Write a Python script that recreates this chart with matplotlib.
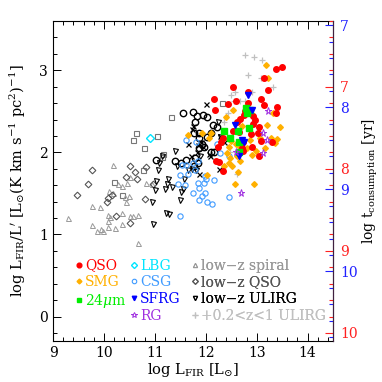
import numpy as np
import matplotlib
matplotlib.use('Agg')
import matplotlib.pyplot as plt
from matplotlib.ticker import MultipleLocator

plt.rcParams['font.family'] = ['DejaVu Serif']
plt.rcParams['mathtext.fontset'] = 'dejavuserif'

# high-z samples
qso_x = [13.49, 13.37, 13.15, 12.54, 13.23, 12.83, 12.16, 13.08, 12.60, 12.44, 12.83, 13.15, 13.40,
         13.37, 12.18, 12.77, 12.75, 12.93, 12.67, 12.97, 12.93, 12.62, 12.54, 12.65, 13.02, 13.08,
         13.30, 12.30, 12.73, 12.24, 12.91, 12.73, 13.04, 12.20, 12.34, 13.05, 12.89, 12.71, 12.33, 12.26]
qso_y = [3.04, 3.01, 2.90, 2.80, 2.76, 2.74, 2.65, 2.65, 2.62, 2.59, 2.60, 2.58, 2.55,
         2.48, 2.51, 2.50, 2.46, 2.44, 2.41, 2.39, 2.35, 2.37, 2.26, 2.25, 2.23, 2.14,
         2.13, 2.12, 2.13, 2.07, 2.07, 2.02, 1.96, 1.90, 1.77, 2.31, 2.22, 2.05, 2.17, 1.88]

smg_x = [13.18, 13.22, 12.53, 12.39, 12.71, 13.32, 13.46, 13.21, 11.64, 11.92, 12.10, 12.07, 12.33,
         12.49, 12.60, 12.86, 13.07, 13.28, 13.40, 13.36, 12.81, 12.45, 12.66, 12.41, 12.61, 12.98,
         13.17, 12.90, 12.48, 12.67, 12.45, 12.51, 12.35, 12.64, 12.58, 12.94, 12.03]
smg_y = [3.07, 2.91, 2.52, 2.43, 2.32, 2.48, 2.31, 2.33, 2.21, 2.24, 2.24, 2.18, 2.16,
         2.14, 2.10, 2.15, 2.18, 2.18, 2.16, 2.11, 2.05, 2.07, 2.08, 1.99, 1.96, 2.02,
         2.05, 1.97, 1.93, 1.89, 1.87, 1.83, 1.83, 1.76, 1.61, 1.62, 1.72]

mips_x = [12.35, 12.63, 12.84, 12.48, 12.66, 12.66, 12.79, 12.86, 12.81]
mips_y = [2.26, 2.26, 2.30, 2.17, 2.12, 2.00, 2.54, 2.51, 2.48]

sfrg_x = [12.82, 12.91, 12.58, 12.71, 12.74, 12.66]
sfrg_y = [2.70, 2.51, 2.33, 2.15, 2.12, 1.95]

rg_x = [13.22, 13.12, 13.21, 13.12, 12.60, 12.69]
rg_y = [2.50, 2.24, 2.15, 1.99, 2.00, 1.51]

lbg_x = [10.90]
lbg_y = [2.17]

csg_x = [11.62, 11.80, 12.22, 12.28, 12.46, 11.53, 11.62, 11.74, 11.85, 11.50, 11.64, 11.78, 11.45,
         11.60, 11.74, 11.84, 11.86, 11.97, 12.01, 11.99, 11.92, 12.03, 12.12, 12.17, 11.86, 11.49,
         12.46, 11.98]
csg_y = [2.15, 2.13, 2.10, 1.99, 1.96, 1.85, 1.85, 1.87, 1.89, 1.73, 1.74, 1.78, 1.61,
         1.60, 1.50, 1.63, 1.56, 1.63, 1.68, 1.50, 1.47, 1.40, 1.37, 1.66, 1.42, 1.23,
         1.46, 1.71]

# low-z samples
spiral_x = [9.30, 9.77, 9.77, 9.87, 9.92, 9.98, 10.08, 9.95, 10.07, 10.12, 10.21, 10.17, 10.10,
            10.18, 10.28, 10.36, 10.46, 10.52, 10.41, 10.50, 10.44, 10.35, 10.51, 10.56, 10.66,
            10.36, 10.66, 10.82, 10.94, 10.07]
spiral_y = [1.20, 1.35, 1.12, 1.04, 1.33, 1.04, 1.09, 1.07, 1.16, 1.21, 1.08, 1.84, 1.53,
            1.51, 1.62, 1.59, 1.63, 1.70, 1.45, 1.47, 1.40, 1.13, 1.22, 1.23, 1.24,
            1.26, 0.89, 1.63, 1.62, 1.24]

lzqso_x = [9.77, 9.69, 9.47, 10.08, 10.15, 10.05, 10.51, 10.44, 10.64, 10.61, 10.23, 10.51, 10.80,
           10.82, 10.97]
lzqso_y = [1.78, 1.62, 1.48, 1.44, 1.48, 1.40, 1.83, 1.70, 1.68, 1.76, 1.22, 1.14, 1.43,
           1.82, 1.61]

ulirg_x = [11.39, 11.13, 11.08, 11.43, 11.07, 11.64, 11.26, 11.57, 11.23, 11.33, 11.19, 11.55, 11.00,
           11.51, 11.49, 10.94, 11.21, 11.28, 10.96, 12.24, 11.89, 12.27, 11.81, 11.72, 11.03]
ulirg_y = [2.02, 1.95, 1.87, 1.83, 1.79, 1.78, 1.67, 1.68, 1.61, 1.58, 1.55, 1.55, 1.54,
           1.52, 1.42, 1.39, 1.26, 1.25, 1.13, 2.37, 1.95, 2.19, 1.78, 1.80, 1.65]

midz_x = [12.77, 12.94, 13.10, 12.83, 13.09, 13.32, 12.58, 12.49, 12.90, 12.77, 12.56, 12.44, 12.36,
          12.62, 12.48, 12.67]
midz_y = [3.18, 3.16, 3.13, 2.94, 2.91, 2.80, 2.73, 2.70, 2.73, 2.63, 2.62, 2.48, 2.37,
          1.74, 2.01, 2.63]

# extra samples without legend entries
circ_x = [11.55, 11.74, 11.83, 11.95, 12.02, 11.79, 12.15, 11.76, 11.87, 12.02, 11.92, 11.87, 12.11,
          12.17, 11.40, 11.51, 11.62, 11.79, 11.85, 11.76, 11.03, 12.10, 11.97, 11.86, 12.22]
circ_y = [2.48, 2.49, 2.44, 2.46, 2.43, 2.37, 2.33, 2.23, 2.23, 2.19, 2.10, 2.17, 2.00,
          2.01, 1.89, 1.87, 1.91, 1.93, 1.87, 1.83, 1.91, 2.24, 2.07, 2.05, 2.31]

cross_x = [12.00, 11.74, 11.64, 11.91, 11.95, 12.06, 12.08, 11.87, 12.25, 12.27, 12.35, 11.70, 11.85,
           11.72, 11.82]
cross_y = [2.59, 2.32, 2.10, 2.13, 2.07, 1.98, 1.95, 1.74, 1.80, 2.20, 2.13, 1.96, 2.09,
           2.28, 2.01]

sq_x = [12.31, 11.32, 10.63, 10.57, 11.05, 10.78, 11.15, 11.13, 10.77, 10.20, 10.35]
sq_y = [2.60, 2.43, 2.24, 2.15, 2.20, 2.05, 1.98, 1.94, 1.78, 1.64, 1.48]

# offsets of the two log t_consumption scales
red_zero = 9.8
blue_zero = 10.55

fig = plt.figure(figsize=(3.82, 3.82), dpi=100, facecolor='w')
ax = fig.add_axes([0.139, 0.107, 0.733, 0.838])

ax.plot(sq_x, sq_y, 's', ms=3.6, mfc='none', mec='#777777', mew=0.8)
ax.plot(spiral_x, spiral_y, '^', ms=3.6, mfc='none', mec='#999999', mew=0.7)
ax.plot(lzqso_x, lzqso_y, 'D', ms=3.4, mfc='none', mec='#555555', mew=0.8)
ax.plot(ulirg_x, ulirg_y, 'v', ms=3.6, mfc='none', mec='k', mew=0.8)
ax.plot(circ_x, circ_y, 'o', ms=4.6, mfc='none', mec='k', mew=1.0)
ax.plot(cross_x, cross_y, 'x', ms=3.6, mec='k', mew=0.9)
ax.plot(csg_x, csg_y, 'o', ms=3.8, mfc='none', mec='#3f9bff', mew=0.8)
ax.plot(lbg_x, lbg_y, 'D', ms=3.6, mfc='none', mec='#00e5ff', mew=1.0)
ax.plot(midz_x, midz_y, '+', ms=4.6, mec='#c0c0c0', mew=0.9)
ax.plot(smg_x, smg_y, 'D', ms=2.9, color='#ffb000', mec='#ffb000')
ax.plot(qso_x, qso_y, 'o', ms=4.0, color='#ff0000', mec='#ff0000')
ax.plot(mips_x, mips_y, 's', ms=4.0, color='#00ee00', mec='#00ee00')
ax.plot(sfrg_x, sfrg_y, 'v', ms=3.8, color='#0000ff', mec='#0000ff')
ax.plot(rg_x, rg_y, '*', ms=5.2, mfc='none', mec='#a030e0', mew=0.7)

ax.set_xlim(9, 14.5)
ax.set_ylim(-0.3, 3.6)
ax.xaxis.set_major_locator(MultipleLocator(1))
ax.xaxis.set_minor_locator(MultipleLocator(0.2))
ax.yaxis.set_major_locator(MultipleLocator(1))
ax.yaxis.set_minor_locator(MultipleLocator(0.2))
ax.tick_params(which='both', direction='in', top=True, right=False, labelsize=10)
ax.tick_params(which='major', length=6, width=0.7)
ax.tick_params(which='minor', length=3, width=0.7)
ax.set_xlabel(r'log L$_{\rm FIR}$ [L$_{\odot}$]', fontsize=10.5, labelpad=1)
ax.set_ylabel(r"log L$_{\rm FIR}$/L$'$ [L$_{\odot}$(K km s$^{-1}$ pc$^{2}$)$^{-1}$]",
              fontsize=10.5, labelpad=8)

# two right-hand scales of gas consumption time
axr = ax.twinx()
axr.set_ylim(red_zero + 0.3, red_zero - 3.6)
axb = ax.twinx()
axb.set_ylim(blue_zero + 0.3, blue_zero - 3.6)
for a, c in ((axr, '#ff2020'), (axb, '#2020ff')):
    a.yaxis.set_major_locator(MultipleLocator(1))
    a.yaxis.set_minor_locator(MultipleLocator(0.2))
    a.tick_params(which='both', direction='in', colors=c, labelsize=10, pad=5)
    a.tick_params(which='major', length=6, width=0.8)
    a.tick_params(which='minor', length=3, width=0.8)
    for s in a.spines.values():
        s.set_visible(False)
axb.spines['right'].set_visible(True)
axb.spines['right'].set_color('#402040')
axb.set_ylabel(r'log t$_{\rm consumption}$ [yr]', fontsize=10, labelpad=2)

# legend in three columns, built from the plotted series
h = ax.get_lines()
cols = [
    ([h[10], h[9], h[11]], ['QSO', 'SMG', r'24$\mu$m'],
     ['#ff0000', '#ffb000', '#00ee00'], 0.078),
    ([h[7], h[6], h[12], h[13]], ['LBG', 'CSG', 'SFRG', 'RG'],
     ['#00e5ff', '#3f9bff', '#0000ff', '#a030e0'], 0.274),
    ([h[1], h[2], h[3], h[8]], ['low\u2212z spiral', 'low\u2212z QSO', 'low\u2212z ULIRG', '+0.2<z<1 ULIRG'],
     ['#999999', '#555555', '#000000', '#c0c0c0'], 0.492),
]
for handles, labels, colors, x0 in cols:
    leg = ax.legend(handles, labels, loc='upper left', bbox_to_anchor=(x0, 0.258),
                    frameon=False, fontsize=10, handlelength=0.6, handletextpad=0.15,
                    labelspacing=0.2, borderpad=0, borderaxespad=0, markerscale=0.85)
    for t, c in zip(leg.get_texts(), colors):
        t.set_color(c)
    ax.add_artist(leg)

fig.savefig('out.png', dpi=100)
